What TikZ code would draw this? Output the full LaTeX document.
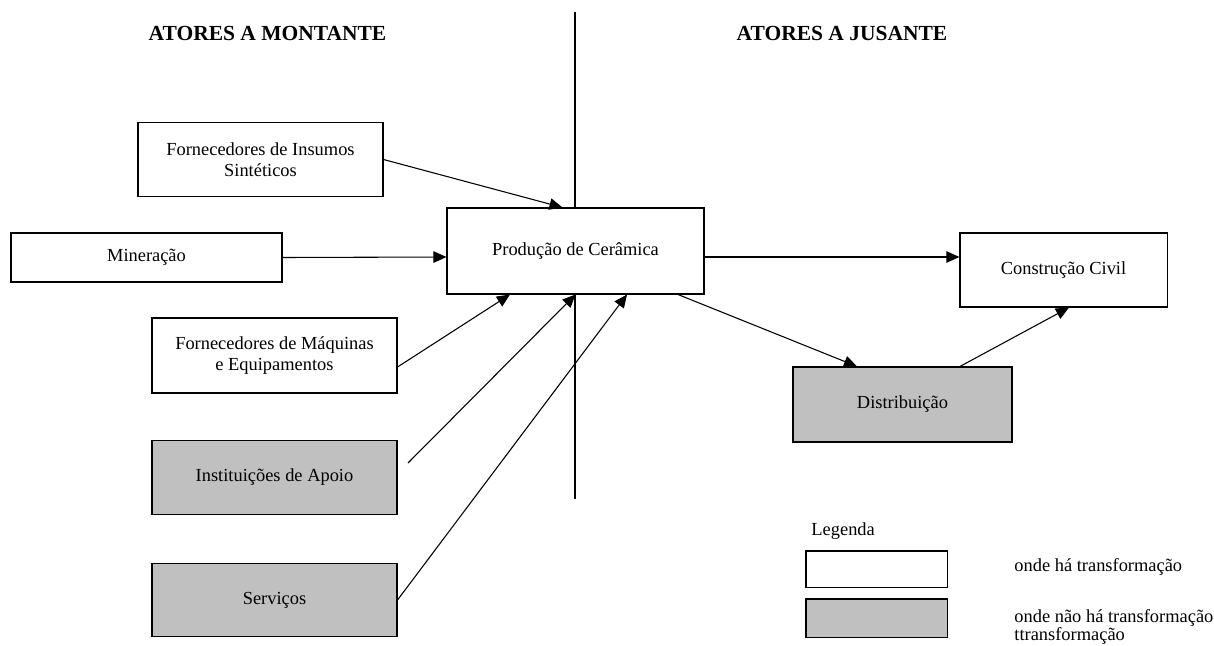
\documentclass[tikz,border=0pt]{standalone}
\usepackage{fontspec}
\setmainfont{Liberation Serif}
\usetikzlibrary{calc,positioning,arrows.meta}
\definecolor{boxGray}{HTML}{C0C0C0}

\begin{document}
\begin{tikzpicture}[
  x=0.6515pt, y=-0.6515pt,
  every node/.style={font=\fontsize{12}{14}\selectfont},
  actor/.style={draw, line width=0.7pt, fill=white, align=center, inner sep=2pt,
                minimum width=159.6pt, minimum height=48pt},
  noproc/.style={actor, fill=boxGray},
  head/.style={font=\fontsize{14}{16}\selectfont\bfseries},
  arr/.style={-{Triangle[length=8.5pt,width=7.5pt]}, line width=0.7pt},
]
\useasboundingbox (0,0) rectangle (1214,645);

% Headings and divider
\node[head] (mont) at (267.5,33) {ATORES A MONTANTE};
\node[head] (jus) at (842,33) {ATORES A JUSANTE};
\coordinate (divtop) at (575,12);
\coordinate (divbot) at (575,499);
\draw[line width=0.7pt] (divtop) -- (divbot);

% Upstream actors
\node[actor] (ins) at (260.5,159.5) {Fornecedores de Insumos\\Sintéticos};
\node[actor, minimum width=176.6pt, minimum height=31.9pt] (min) at (146.5,257.5) {Mineração};
\node[actor, minimum height=48.9pt] (maq) at (274.5,355.5) {Fornecedores de Máquinas\\e Equipamentos};
\node[noproc] (inst) at (274.5,477.5) {Instituições de Apoio};
\node[noproc] (serv) at (274.5,600) {Serviços};

% Core and downstream
\node[actor, minimum width=167.4pt, minimum height=56pt] (prod) at (575.5,251) {Produção de Cerâmica};
\node[actor, minimum width=134.9pt, minimum height=48.2pt] (cons) at (1063.5,270) {Construção Civil};
\node[noproc, minimum width=142.7pt, minimum height=48.9pt] (dist) at (902.5,404.5) {Distribuição};

% Legend
\node[anchor=west] (leg) at (806,531) {Legenda};
\node[actor, minimum width=91.9pt, minimum height=23.5pt] (legw) at (876.5,569) {};
\node[noproc, minimum width=91.9pt, minimum height=24.8pt] (legg) at (876.5,618) {};
\node[anchor=west] (legwt) at (1009,567) {onde há transformação};
\node[anchor=west, align=left, font=\fontsize{12}{11.7}\selectfont] (leggt) at (1009,627) {onde não há transformação\\ttransformação};

% Arrows into production
\coordinate (instend) at (408,463);
\draw[arr] (ins.east) -- ($(prod.north)+(-13,0)$);
\draw[arr] (min.east) -- ($(prod.west)+(0,6)$);
\draw[arr] ($(maq.east)+(0,11.5)$) -- ($(prod.south)+(-65.5,0)$);
\draw[arr] (instend) -- (prod.south);
\draw[arr] (serv.east) -- ($(prod.south)+(51.5,0)$);

% Arrows downstream
\draw[arr] ($(prod.east)+(0,6)$) -- ($(cons.west)+(0,-13)$);
\draw[arr] ($(prod.south)+(102.5,0)$) -- ($(dist.north)+(-45.5,0)$);
\draw[arr] ($(dist.north)+(57.5,0)$) -- ($(cons.south)+(5.5,0)$);

\end{tikzpicture}
\end{document}
